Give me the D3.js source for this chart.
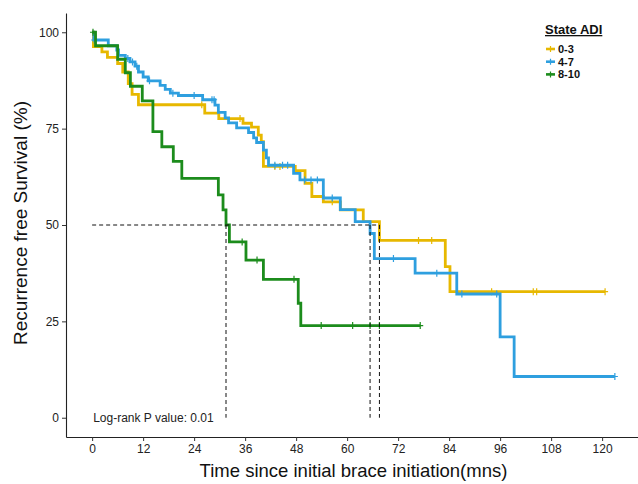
<!DOCTYPE html>
<html>
<head>
<meta charset="utf-8">
<script src="https://cdn.jsdelivr.net/npm/d3@7"></script>
<style>
  body { margin: 0; background: #fff; }
  svg { font-family: "Liberation Sans", Arial, sans-serif; }
</style>
</head>
<body>
<svg width="638" height="484"></svg>
<script>
var WIDTH = 638;
var HEIGHT = 484;

// groups + colours
var groups = ["0-3", "4-7", "8-10"];
var colors = ["#E7B800", "#2E9FDF", "#1C8C1C"];

// 0-3 : step times (months) and survival (%) after each step
var timeA = [0.3, 2.3, 3.6, 6.0, 7.2, 8.5, 9.4, 10.9, 26.5, 29.8, 35.5, 37.5, 39.1, 39.8, 40.3, 47.8, 50.1, 51.7, 54.4, 58.4, 63.8, 67.6, 83.1, 84.2];
var survA = [96.3, 94.9, 93.5, 91.9, 89.7, 86.7, 83.9, 81.2, 79.0, 77.6, 76.4, 75.4, 73.3, 71.6, 65.2, 64.1, 60.8, 57.4, 56.0, 53.9, 50.9, 46.0, 39.2, 32.7];
var censorA = [25.8, 34.8, 43.0, 44.2, 56.5, 76.8, 79.9, 94.0, 103.8, 104.6, 120.7];
var endA = 120.7;

// 4-7
var timeB = [0.4, 3.8, 5.8, 6.2, 7.8, 8.9, 10.1, 10.9, 12.0, 13.2, 16.0, 17.2, 18.4, 20.3, 26.0, 28.9, 29.7, 31.3, 32.1, 34.0, 36.8, 38.0, 38.7, 40.3, 41.0, 41.5, 47.4, 48.9, 54.4, 58.4, 61.9, 65.4, 66.4, 76.0, 85.8, 96.0, 99.3];
var survB = [98.0, 96.5, 95.4, 94.0, 93.2, 92.3, 91.2, 89.7, 88.4, 87.4, 86.2, 85.2, 84.2, 83.6, 82.5, 81.1, 79.2, 77.8, 76.5, 75.2, 74.0, 72.6, 71.4, 69.4, 67.4, 65.5, 63.4, 61.7, 57.0, 54.0, 50.9, 47.8, 41.3, 37.5, 32.1, 21.0, 10.7];
var censorB = [0.5, 8.4, 9.5, 10.5, 13.5, 19.0, 24.0, 28.2, 28.7, 43.0, 44.8, 46.0, 50.0, 51.5, 53.0, 56.5, 70.9, 81.1, 87.0, 95.2, 123.0];
var endB = 123.0;

// 8-10
var timeC = [0.8, 6.0, 7.8, 9.0, 11.8, 14.3, 16.4, 19.1, 21.1, 29.7, 30.8, 31.5, 32.3, 36.2, 40.3, 48.5, 49.1];
var survC = [96.5, 93.0, 89.5, 86.0, 82.2, 74.2, 70.3, 66.5, 62.1, 57.8, 53.9, 50.0, 45.6, 40.9, 35.9, 29.7, 23.9];
var censorC = [0.2, 35.3, 38.8, 47.5, 53.9, 61.3, 65.4, 67.6, 77.2];
var endC = 77.2;

var xTicks = [0, 12, 24, 36, 48, 60, 72, 84, 96, 108, 120];
var yTicks = [0, 25, 50, 75, 100];
var pText = "Log-rank P value: 0.01";

var curves = [
    {name: groups[0], color: colors[0], time: timeA, surv: survA, censor: censorA, end: endA},
    {name: groups[1], color: colors[1], time: timeB, surv: survB, censor: censorB, end: endB},
    {name: groups[2], color: colors[2], time: timeC, surv: survC, censor: censorC, end: endC}
];

var svg = d3.select("svg")
    .attr("width", WIDTH)
    .attr("height", HEIGHT);

var x = d3.scaleLinear().domain([-6.15, 129.15]).range([66, 641]);
var y = d3.scaleLinear().domain([-5, 105]).range([437, 13]);

// survival value at time t (step after)
function survAt(c, t) {
    var s = 100;
    for (var i = 0; i < c.time.length; i++) {
        if (c.time[i] <= t) s = c.surv[i];
    }
    return s;
}

// axes
var xAxis = svg.append("g")
    .attr("transform", "translate(0," + 437 + ")")
    .call(d3.axisBottom(x).tickValues(xTicks).tickSize(4).tickSizeOuter(0).tickPadding(3));
var yAxis = svg.append("g")
    .attr("transform", "translate(" + 66 + ",0)")
    .call(d3.axisLeft(y).tickValues(yTicks).tickSize(4).tickSizeOuter(0).tickPadding(3));

[xAxis, yAxis].forEach(function(a) {
    a.select(".domain").attr("stroke", "#222").attr("stroke-width", 1.1);
    a.selectAll(".tick line").attr("stroke", "#333");
    a.selectAll(".tick text")
        .attr("fill", "#222")
        .style("font-size", "12px")
        .style("font-family", "Liberation Sans, Arial, sans-serif");
});

// curves
var line = d3.line()
    .x(function(d) { return x(d[0]); })
    .y(function(d) { return y(d[1]); })
    .curve(d3.curveStepAfter);

curves.forEach(function(c) {
    var pts = [[0, 100]];
    c.time.forEach(function(t, i) { pts.push([t, c.surv[i]]); });
    pts.push([c.end, c.surv[c.surv.length - 1]]);

    svg.append("path")
        .attr("d", line(pts))
        .attr("fill", "none")
        .attr("stroke", c.color)
        .attr("stroke-width", 2.8);

    svg.append("g").selectAll("path")
        .data(c.censor)
        .enter()
        .append("path")
        .attr("d", function(t) {
            var cx = x(t), cy = y(survAt(c, t));
            return "M" + (cx - 3) + "," + cy + "H" + (cx + 3) + "M" + cx + "," + (cy - 3.5) + "V" + (cy + 3.5);
        })
        .attr("stroke", c.color)
        .attr("stroke-width", 1.2);
});

// median survival lines
var medians = curves.map(function(c) {
    for (var i = 0; i < c.time.length; i++) {
        if (c.surv[i] <= 50) return c.time[i];
    }
    return null;
});

svg.append("line")
    .attr("x1", x(0)).attr("x2", x(d3.max(medians)))
    .attr("y1", y(50)).attr("y2", y(50))
    .attr("stroke", "#111").attr("stroke-width", 1)
    .attr("stroke-dasharray", "4,3");

svg.append("g").selectAll("line")
    .data(medians)
    .enter()
    .append("line")
    .attr("x1", function(d) { return x(d); })
    .attr("x2", function(d) { return x(d); })
    .attr("y1", y(50)).attr("y2", y(0))
    .attr("stroke", "#111").attr("stroke-width", 1)
    .attr("stroke-dasharray", "4,3");

// p-value
svg.append("text")
    .attr("x", x(0) + 1)
    .attr("y", y(0) + 4)
    .attr("fill", "#222")
    .style("font-size", "12px")
    .text(pText);

// axis titles
svg.append("text")
    .attr("x", (66 + 641) / 2)
    .attr("y", 477)
    .attr("text-anchor", "middle")
    .attr("fill", "#111")
    .style("font-size", "18.5px")
    .text("Time since initial brace initiation(mns)");

svg.append("text")
    .attr("transform", "translate(" + 27 + "," + 223 + ") rotate(-90)")
    .attr("text-anchor", "middle")
    .attr("fill", "#111")
    .style("font-size", "19px")
    .text("Recurrence free Survival (%)");

// legend
var legend = svg.append("g").attr("transform", "translate(545,0)");
legend.append("text")
    .attr("x", 0).attr("y", 34)
    .style("font-size", "13px")
    .style("font-weight", "bold")
    .style("text-decoration", "underline")
    .attr("fill", "#111")
    .text("State ADI");

var items = legend.selectAll(".item")
    .data(curves)
    .enter()
    .append("g")
    .attr("transform", function(d, i) { return "translate(0," + (49 + i * 12.7) + ")"; });

items.append("line")
    .attr("x1", 1).attr("x2", 10)
    .attr("y1", 0).attr("y2", 0)
    .attr("stroke", function(d) { return d.color; })
    .attr("stroke-width", 2.6);
items.append("path")
    .attr("d", "M3,0H8M5.5,-3V3")
    .attr("stroke", function(d) { return d.color; })
    .attr("stroke-width", 1.2);
items.append("text")
    .attr("x", 13).attr("y", 4)
    .style("font-size", "11px")
    .style("font-weight", "bold")
    .attr("fill", "#111")
    .text(function(d) { return d.name; });
</script>
</body>
</html>
